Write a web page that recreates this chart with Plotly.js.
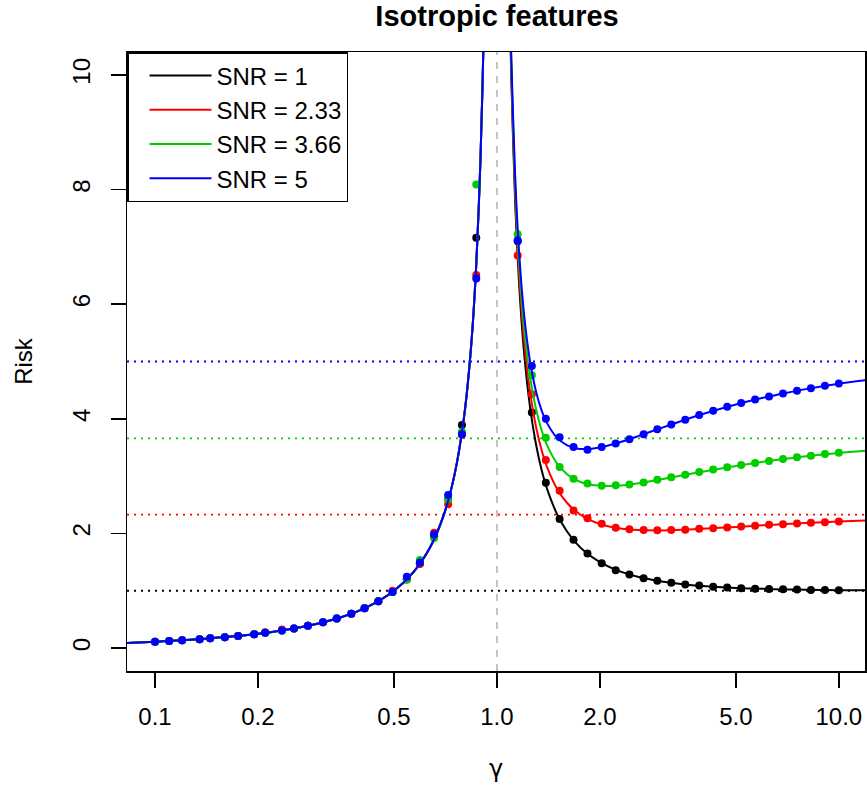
<!DOCTYPE html>
<html>
<head>
<meta charset="utf-8">
<script src="https://cdn.plot.ly/plotly-3.0.1.min.js"></script>
<style>html,body{margin:0;padding:0;background:#fff;}</style>
</head>
<body>
<div id="chart" style="width:867px;height:786px;"></div>
<script>
// ---- data ----
const seriesNames = ['SNR = 1', 'SNR = 2.33', 'SNR = 3.66', 'SNR = 5'];
const snrValues = [1, 2.33, 3.66, 5];
const seriesColors = ['#000000', '#FF0000', '#00CD00', '#0000FF'];

// theoretical curve, gamma < 1 (identical for every SNR)
const curveGammaLeft = [0.08, 0.1, 0.13, 0.17, 0.22, 0.28, 0.35, 0.42, 0.5, 0.57, 0.64, 0.7, 0.75, 0.8, 0.84, 0.87, 0.895, 0.915, 0.935];
const curveRiskLeft = [0.087, 0.111, 0.149, 0.205, 0.282, 0.389, 0.539, 0.724, 1.0, 1.326, 1.778, 2.333, 3.0, 4.0, 5.25, 6.692, 8.524, 10.765, 14.385];

// theoretical curves, gamma > 1
const curveGammaRight = [1.06, 1.08, 1.1, 1.13, 1.16, 1.2, 1.25, 1.3, 1.35, 1.4, 1.5, 1.6, 1.7, 1.8, 2.0, 2.3, 2.6, 3.0, 3.5, 4, 5, 6, 7, 8, 10, 12.5];
const curveRiskRight1 = [16.723, 12.574, 10.091, 7.807, 6.388, 5.167, 4.200, 3.564, 3.116, 2.786, 2.333, 2.042, 1.840, 1.694, 1.500, 1.334, 1.240, 1.167, 1.114, 1.083, 1.050, 1.033, 1.024, 1.018, 1.011, 1.007];
const curveRiskRight233 = [16.799, 12.673, 10.212, 7.960, 6.571, 5.388, 4.466, 3.871, 3.461, 3.166, 2.777, 2.540, 2.388, 2.286, 2.165, 2.086, 2.059, 2.053, 2.064, 2.081, 2.114, 2.142, 2.164, 2.182, 2.208, 2.231];
const curveRiskRight366 = [16.874, 12.771, 10.333, 8.113, 6.755, 5.610, 4.732, 4.178, 3.806, 3.546, 3.220, 3.039, 2.936, 2.877, 2.830, 2.838, 2.877, 2.940, 3.014, 3.078, 3.178, 3.250, 3.304, 3.345, 3.405, 3.454];
const curveRiskRight5 = [16.950, 12.870, 10.455, 8.268, 6.940, 5.833, 5.000, 4.487, 4.153, 3.929, 3.667, 3.542, 3.487, 3.472, 3.500, 3.595, 3.702, 3.833, 3.971, 4.083, 4.250, 4.367, 4.452, 4.518, 4.611, 4.687];

// simulated points
const pointGamma = [0.100, 0.110, 0.120, 0.135, 0.145, 0.160, 0.175, 0.195, 0.210, 0.235, 0.255, 0.280, 0.310, 0.340, 0.375, 0.410, 0.450, 0.495, 0.545, 0.595, 0.655, 0.720, 0.790, 0.870,
  1.150, 1.265, 1.390, 1.525, 1.675, 1.840, 2.025, 2.225, 2.440, 2.685, 2.945, 3.235, 3.555, 3.905, 4.290, 4.715, 5.180, 5.690, 6.250, 6.865, 7.545, 8.285, 9.105, 10.000];
const pointRisk1 = [0.111, 0.124, 0.136, 0.156, 0.170, 0.190, 0.212, 0.242, 0.266, 0.307, 0.342, 0.389, 0.449, 0.515, 0.600, 0.695, 0.818, 0.980, 1.20, 1.47, 1.95, 2.60, 3.89, 7.16,
  7.10, 4.11, 2.885, 2.25, 1.89, 1.65, 1.48, 1.36, 1.285, 1.22, 1.175, 1.14, 1.11, 1.09, 1.07, 1.055, 1.045, 1.035, 1.03, 1.025, 1.02, 1.015, 1.015, 1.01];
const pointRisk233 = [0.111, 0.124, 0.136, 0.156, 0.170, 0.190, 0.212, 0.242, 0.275, 0.325, 0.342, 0.389, 0.449, 0.515, 0.600, 0.695, 0.818, 1.000, 1.20, 1.47, 2.01, 2.51, 3.72, 6.51,
  6.85, 4.43, 3.28, 2.745, 2.40, 2.265, 2.17, 2.10, 2.075, 2.06, 2.055, 2.06, 2.065, 2.08, 2.09, 2.105, 2.12, 2.135, 2.15, 2.16, 2.175, 2.185, 2.195, 2.21];
const pointRisk366 = [0.111, 0.124, 0.136, 0.156, 0.170, 0.190, 0.212, 0.242, 0.266, 0.307, 0.342, 0.389, 0.449, 0.515, 0.600, 0.695, 0.818, 0.980, 1.19, 1.535, 1.92, 2.595, 3.775, 8.09,
  7.22, 4.76, 3.67, 3.16, 2.955, 2.87, 2.83, 2.84, 2.855, 2.89, 2.935, 2.98, 3.025, 3.07, 3.115, 3.155, 3.195, 3.23, 3.265, 3.30, 3.33, 3.355, 3.385, 3.41];
const pointRisk5 = [0.111, 0.124, 0.136, 0.156, 0.170, 0.190, 0.212, 0.242, 0.266, 0.307, 0.342, 0.389, 0.449, 0.515, 0.600, 0.695, 0.818, 0.980, 1.245, 1.495, 1.98, 2.67, 3.73, 6.45,
  7.115, 4.92, 4.00, 3.68, 3.51, 3.46, 3.51, 3.57, 3.645, 3.73, 3.82, 3.90, 3.985, 4.065, 4.14, 4.21, 4.275, 4.335, 4.39, 4.44, 4.49, 4.535, 4.575, 4.615];

const xTickVals = [0.1, 0.2, 0.5, 1, 2, 5, 10];
const xTickText = ['0.1', '0.2', '0.5', '1.0', '2.0', '5.0', '10.0'];
const yTickVals = [0, 2, 4, 6, 8, 10];
const yTickText = ['0', '2', '4', '6', '8', '10'];
const interpolationThreshold = [1];

// ---- build traces ----
const curveRight = [curveRiskRight1, curveRiskRight233, curveRiskRight366, curveRiskRight5];
const pointRisks = [pointRisk1, pointRisk233, pointRisk366, pointRisk5];
const FONT = 'Liberation Sans, Arial, Helvetica, sans-serif';

const traces = [];
for (let i = 0; i < seriesNames.length; i++) {
  traces.push({
    type: 'scatter', mode: 'lines', name: seriesNames[i],
    x: curveGammaLeft.concat([null], curveGammaRight),
    y: curveRiskLeft.concat([null], curveRight[i]),
    line: {color: seriesColors[i], width: 2, shape: 'spline', smoothing: 0.8},
    connectgaps: false, hoverinfo: 'skip'
  });
  traces.push({
    type: 'scatter', mode: 'markers', name: seriesNames[i], showlegend: false,
    x: pointGamma, y: pointRisks[i],
    marker: {color: seriesColors[i], size: 8, line: {width: 0}}
  });
}

const shapes = [];
for (let i = 0; i < snrValues.length; i++) {
  shapes.push({type: 'line', xref: 'paper', yref: 'y', x0: 0, x1: 1, y0: snrValues[i], y1: snrValues[i],
    line: {color: seriesColors[i], width: 1.8, dash: '2px,5px'}, layer: 'below'});
}
shapes.push({type: 'line', xref: 'x', yref: 'paper', x0: interpolationThreshold[0], x1: interpolationThreshold[0], y0: 0, y1: 1,
  line: {color: '#BEBEBE', width: 1.8, dash: '7px,7px'}, layer: 'below'});

const axisCommon = {
  ticks: 'outside', ticklen: 15, tickwidth: 1.5, tickcolor: '#000',
  showline: true, linecolor: '#000', linewidth: 1.5, mirror: true,
  showgrid: false, zeroline: false, tickfont: {family: FONT, size: 24, color: '#000'}
};

const layout = {
  width: 867, height: 786,
  margin: {l: 127, r: 2, t: 52, b: 115, pad: 0},
  paper_bgcolor: '#fff', plot_bgcolor: '#fff',
  font: {family: FONT, size: 24, color: '#000'},
  title: {text: 'Isotropic features', font: {family: FONT, size: 29, weight: 'bold', color: '#000'},
    x: 497 / 867, xanchor: 'center', xref: 'container', y: 1 - 16 / 786, yanchor: 'middle', yref: 'container'},
  xaxis: Object.assign({}, axisCommon, {
    type: 'log', range: [-1.082, 1.0765], tickmode: 'array', tickvals: xTickVals, ticktext: xTickText,
    ticklabelstandoff: 9,
    title: {text: 'γ', font: {family: 'DejaVu Sans, sans-serif', size: 24, color: '#000'}, standoff: 31}
  }),
  yaxis: Object.assign({}, axisCommon, {
    range: [-0.4, 10.4], tickmode: 'array', tickvals: yTickVals, ticktext: yTickText, tickangle: -90,
    ticklabelstandoff: 11,
    title: {text: 'Risk', font: {family: FONT, size: 24, color: '#000'}, standoff: 28}
  }),
  showlegend: true,
  legend: {x: 0, y: 1, xanchor: 'left', yanchor: 'top', xref: 'paper', yref: 'paper',
    bgcolor: '#fff', bordercolor: '#000', borderwidth: 1.5, indentation: 16,
    font: {family: FONT, size: 24, color: '#000'}, itemwidth: 62, tracegroupgap: 0},
  shapes: shapes
};

Plotly.newPlot('chart', traces, layout, {displayModeBar: false, staticPlot: true});
</script>
</body>
</html>
